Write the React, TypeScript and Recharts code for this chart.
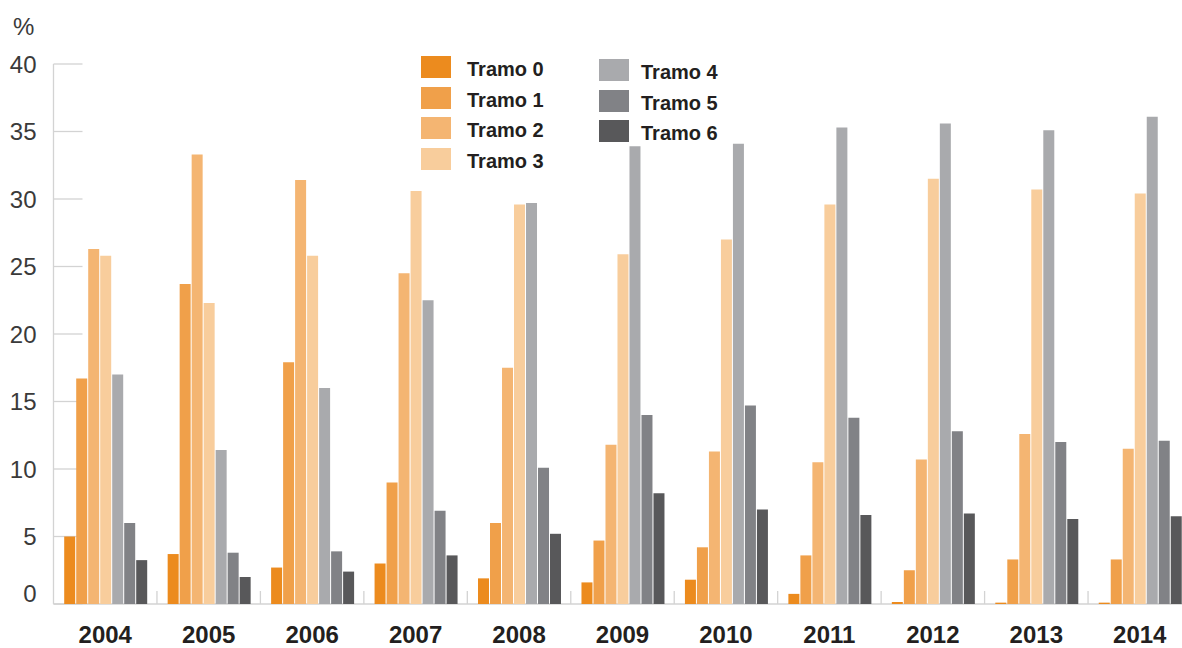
import { BarChart, Bar, XAxis, YAxis } from 'recharts';

const years = ['2004', '2005', '2006', '2007', '2008', '2009', '2010', '2011', '2012', '2013', '2014'];
const tramo0 = [5.0, 3.7, 2.7, 3.0, 1.9, 1.6, 1.8, 0.75, 0.15, 0.1, 0.1];
const tramo1 = [16.7, 23.7, 17.9, 9.0, 6.0, 4.7, 4.2, 3.6, 2.5, 3.3, 3.3];
const tramo2 = [26.3, 33.3, 31.4, 24.5, 17.5, 11.8, 11.3, 10.5, 10.7, 12.6, 11.5];
const tramo3 = [25.8, 22.3, 25.8, 30.6, 29.6, 25.9, 27.0, 29.6, 31.5, 30.7, 30.4];
const tramo4 = [17.0, 11.4, 16.0, 22.5, 29.7, 33.9, 34.1, 35.3, 35.6, 35.1, 36.1];
const tramo5 = [6.0, 3.8, 3.9, 6.9, 10.1, 14.0, 14.7, 13.8, 12.8, 12.0, 12.1];
const tramo6 = [3.25, 2.0, 2.4, 3.6, 5.2, 8.2, 7.0, 6.6, 6.7, 6.3, 6.5];
const yTicks = [0, 5, 10, 15, 20, 25, 30, 35, 40];

const seriesNames = ['Tramo 0', 'Tramo 1', 'Tramo 2', 'Tramo 3', 'Tramo 4', 'Tramo 5', 'Tramo 6'];
const seriesColors = ['#ec8b1e', '#f0a04a', '#f4b572', '#f8cd9c', '#a9aaad', '#818286', '#58585a'];
const allSeries = [tramo0, tramo1, tramo2, tramo3, tramo4, tramo5, tramo6];

const data = years.map((year, i) => {
  const row: Record<string, string | number> = { year };
  seriesNames.forEach((name, s) => {
    row[name] = allSeries[s][i];
  });
  return row;
});

const CHART_W = 1200;
const CHART_H = 648;
const TOP = 64;
const Y_AXIS_W = 53.5;
const X_AXIS_H = 44;
const RIGHT = 8.5;
const BAND = (CHART_W - Y_AXIS_W - RIGHT) / years.length;
const LINE = '#d3d3d3';
const FONT = "'Liberation Sans', Arial, sans-serif";

function YTick(props: any) {
  const { x, y, payload } = props;
  const shift = payload.value === 0 ? -11 : 0;
  return (
    <g>
      <line x1={x} x2={x + 29} y1={y} y2={y} stroke={LINE} strokeWidth={1.3} />
      <text
        x={x - 17}
        y={y + shift}
        dy="0.36em"
        textAnchor="end"
        fontSize={24}
        fontFamily={FONT}
        fill="#3a3a3a"
      >
        {payload.value}
      </text>
    </g>
  );
}

function XTick(props: any) {
  const { x, y, payload } = props;
  const idx = payload.index ?? props.index ?? 0;
  return (
    <g>
      {idx > 0 && (
        <line x1={x - BAND / 2} x2={x - BAND / 2} y1={y - 13} y2={y} stroke={LINE} strokeWidth={1.3} />
      )}
      <text
        x={x}
        y={y + 39}
        textAnchor="middle"
        fontSize={24}
        fontWeight="bold"
        fontFamily={FONT}
        fill="#231f20"
      >
        {payload.value}
      </text>
    </g>
  );
}

function LegendBox() {
  const col = (names: string[], colors: string[], left: number, top: number, textGap: number) =>
    names.map((name, i) => (
      <div
        key={name}
        style={{ position: 'absolute', left, top: top + i * 30.7, height: 22, display: 'flex', alignItems: 'flex-end' }}
      >
        <div style={{ width: 30, height: 22, background: colors[i] }} />
        <span
          style={{
            marginLeft: textGap,
            fontSize: 20,
            fontWeight: 'bold',
            color: '#231f20',
            fontFamily: FONT,
            lineHeight: '20px',
            position: 'relative',
            top: 1,
            whiteSpace: 'nowrap',
          }}
        >
          {name}
        </span>
      </div>
    ));
  return (
    <div style={{ position: 'absolute', left: 421, top: 56, width: 320, height: 120 }}>
      {col(seriesNames.slice(0, 4), seriesColors.slice(0, 4), 0, 0, 16)}
      {col(seriesNames.slice(4), seriesColors.slice(4), 178, 3, 12)}
    </div>
  );
}

const layer: React.CSSProperties = { position: 'absolute', left: 0, top: 0 };

export default function App() {
  return (
    <div
      style={{
        position: 'absolute',
        left: 0,
        top: 0,
        width: 1182,
        height: 648,
        overflow: 'hidden',
        background: '#fff',
        fontFamily: FONT,
      }}
    >
      <div
        style={{
          position: 'absolute',
          left: 13,
          top: 13,
          fontSize: 24,
          color: '#3a3a3a',
          fontFamily: FONT,
          lineHeight: '28px',
        }}
      >
        %
      </div>

      {/* axes underneath the bars (bars here are transparent, they only feed the scales) */}
      <div style={layer}>
        <BarChart
          width={CHART_W}
          height={CHART_H}
          data={data}
          margin={{ top: TOP, right: RIGHT, bottom: 0, left: 0 }}
        >
          <XAxis
            dataKey="year"
            height={X_AXIS_H}
            interval={0}
            tickSize={0}
            tickMargin={0}
            tickLine={false}
            axisLine={{ stroke: LINE, strokeWidth: 1.3 }}
            tick={<XTick />}
          />
          <YAxis
            width={Y_AXIS_W}
            domain={[0, 40]}
            ticks={yTicks}
            interval={0}
            tickSize={0}
            tickMargin={0}
            tickLine={false}
            axisLine={{ stroke: LINE, strokeWidth: 1.3 }}
            tick={<YTick />}
          />
          <Bar dataKey="Tramo 4" fill="none" fillOpacity={0} isAnimationActive={false} />
        </BarChart>
      </div>

      {/* bars on top */}
      <div style={layer}>
        <BarChart
          width={CHART_W}
          height={CHART_H}
          data={data}
          margin={{ top: TOP, right: RIGHT, bottom: X_AXIS_H, left: Y_AXIS_W }}
          barGap={1}
          barCategoryGap={10.7}
        >
          <XAxis dataKey="year" hide />
          <YAxis domain={[0, 40]} hide />
          {seriesNames.map((name, s) => (
            <Bar key={name} dataKey={name} fill={seriesColors[s]} isAnimationActive={false} />
          ))}
        </BarChart>
      </div>

      <LegendBox />
    </div>
  );
}
